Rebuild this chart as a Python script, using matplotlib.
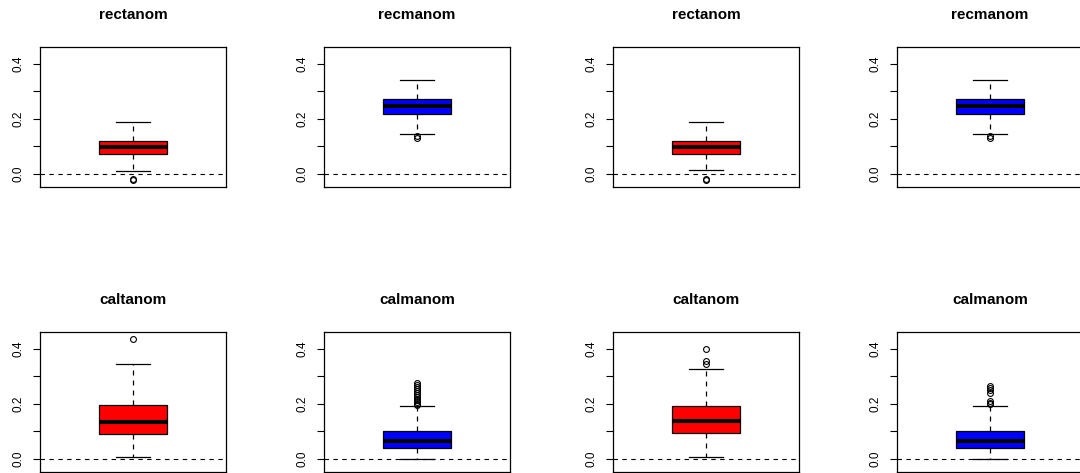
import matplotlib
matplotlib.use("Agg")
import matplotlib.pyplot as plt

plt.rcParams["font.family"] = ["Liberation Sans", "DejaVu Sans"]

# panel data, row by row
titles = ["rectanom", "recmanom", "rectanom", "recmanom",
          "caltanom", "calmanom", "caltanom", "calmanom"]
colors = ["red", "blue", "red", "blue", "red", "blue", "red", "blue"]
whis_lo = [0.011, 0.144, 0.014, 0.144, 0.005, -0.002, 0.008, 0.000]
q1 = [0.072, 0.218, 0.072, 0.218, 0.091, 0.038, 0.093, 0.038]
median = [0.098, 0.247, 0.098, 0.247, 0.135, 0.065, 0.136, 0.065]
q3 = [0.121, 0.272, 0.121, 0.272, 0.194, 0.101, 0.193, 0.101]
whis_hi = [0.190, 0.342, 0.190, 0.342, 0.343, 0.192, 0.328, 0.192]
outliers = [
    [-0.018, -0.024],
    [0.138, 0.131],
    [-0.018, -0.024],
    [0.138, 0.131],
    [0.437],
    [0.196, 0.201, 0.207, 0.213, 0.219, 0.226, 0.232, 0.239,
     0.246, 0.254, 0.261, 0.269, 0.277],
    [0.401, 0.356, 0.344],
    [0.199, 0.204, 0.210, 0.240, 0.249, 0.256, 0.263],
]
y_ticks = [0.0, 0.1, 0.2, 0.3, 0.4]
y_labels = ["0.0", "", "0.2", "", "0.4"]

W, H = 1080, 473
fig = plt.figure(figsize=(W / 100, H / 100), dpi=100)

col_left = [40, 324, 613, 897]
row_top = [47, 332]
box_w, box_h = 186, 140

for i in range(8):
    r, c = divmod(i, 4)
    left = col_left[c] / W
    bottom = 1 - (row_top[r] + box_h) / H
    ax = fig.add_axes([left, bottom, box_w / W, box_h / H])

    stats = [dict(med=median[i], q1=q1[i], q3=q3[i], whislo=whis_lo[i],
                  whishi=whis_hi[i], fliers=outliers[i])]
    ax.axhline(0, color="black", lw=0.8, ls=(0, (4, 4)), zorder=1)
    ax.bxp(stats, positions=[1], widths=0.4, patch_artist=True,
           boxprops=dict(facecolor=colors[i], edgecolor="black", lw=0.9),
           medianprops=dict(color="black", lw=3, solid_capstyle="butt"),
           whiskerprops=dict(color="black", lw=0.9, ls=(0, (4, 4))),
           capprops=dict(color="black", lw=0.9),
           flierprops=dict(marker="o", markerfacecolor="none",
                           markeredgecolor="black", markersize=4.2,
                           markeredgewidth=0.8))

    ax.set_xlim(0.46, 1.54)
    ax.set_ylim(-0.048, 0.461)
    ax.set_xticks([])
    ax.set_yticks(y_ticks)
    ax.set_yticklabels(y_labels, rotation=90, va="center", fontsize=8.5)
    ax.tick_params(axis="y", length=5, width=0.8, pad=6.5, colors="black")
    for s in ax.spines.values():
        s.set_linewidth(0.9)
        s.set_color("black")

    ax.text(0.5, 1 + 32 / box_h, titles[i], transform=ax.transAxes,
            ha="center", va="center", fontsize=11, fontweight="bold")

fig.savefig("out.png", dpi=100)
